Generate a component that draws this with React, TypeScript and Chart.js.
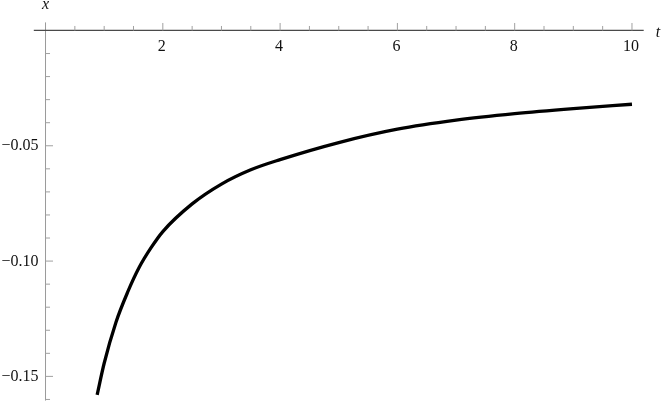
import { useEffect, useRef } from "react";
import { Chart, LineController, LineElement, PointElement, LinearScale, Plugin } from "chart.js";

Chart.register(LineController, LineElement, PointElement, LinearScale);

// curve
const tValues = [0.88, 1.0, 1.2, 1.4, 1.6, 1.8, 2.0, 2.5, 3.0, 3.5, 4.0, 5.0, 6.0, 7.0, 8.0, 9.0, 10.0];
const xValues = [-0.158, -0.1443, -0.1266, -0.1135, -0.1026, -0.0942, -0.0872, -0.0752, -0.0666, -0.0604, -0.056, -0.0486, -0.0428, -0.0389, -0.0361, -0.0339, -0.032];

const xMajorTicks = [2, 4, 6, 8, 10];
const xTickLabels = ["2", "4", "6", "8", "10"];
const xMinorTicks = [0.5, 1, 1.5, 2.5, 3, 3.5, 4.5, 5, 5.5, 6.5, 7, 7.5, 8.5, 9, 9.5];

const yMajorTicks = [-0.05, -0.1, -0.15];
const yTickLabels = ["\u22120.05", "\u22120.10", "\u22120.15"];
const yMinorTicks = [-0.01, -0.02, -0.03, -0.04, -0.06, -0.07, -0.08, -0.09, -0.11, -0.12, -0.13, -0.14, -0.16];

const FONT = "16px 'Times New Roman', 'Liberation Serif', serif";
const ITALIC = "italic 16px 'Times New Roman', 'Liberation Serif', serif";

// axes through the origin, Mathematica style
const axesPlugin: Plugin<"line"> = {
  id: "originAxes",
  beforeDatasetsDraw(chart) {
    const { ctx, chartArea, scales } = chart;
    const xs = scales.x;
    const ys = scales.y;
    const x0 = xs.getPixelForValue(0);
    const y0 = ys.getPixelForValue(0);
    ctx.save();

    // y axis
    ctx.strokeStyle = "#9a9a9a";
    ctx.lineWidth = 1;
    ctx.beginPath();
    ctx.moveTo(x0, chartArea.top);
    ctx.lineTo(x0, chartArea.bottom);
    ctx.stroke();

    // x axis
    ctx.strokeStyle = "#4a4a4a";
    ctx.lineWidth = 1.2;
    ctx.beginPath();
    ctx.moveTo(chartArea.left, y0);
    ctx.lineTo(chartArea.right, y0);
    ctx.stroke();

    ctx.strokeStyle = "#a0a0a0";
    ctx.lineWidth = 1;
    ctx.beginPath();
    xMajorTicks.forEach((v) => {
      const px = xs.getPixelForValue(v);
      ctx.moveTo(px, y0);
      ctx.lineTo(px, y0 - 7.5);
    });
    xMinorTicks.forEach((v) => {
      const px = xs.getPixelForValue(v);
      ctx.moveTo(px, y0);
      ctx.lineTo(px, y0 - 4.5);
    });
    yMajorTicks.forEach((v) => {
      const py = ys.getPixelForValue(v);
      ctx.moveTo(x0, py);
      ctx.lineTo(x0 + 7.5, py);
    });
    yMinorTicks.forEach((v) => {
      const py = ys.getPixelForValue(v);
      ctx.moveTo(x0, py);
      ctx.lineTo(x0 + 4.5, py);
    });
    ctx.stroke();

    ctx.fillStyle = "#111";
    ctx.font = FONT;
    ctx.textAlign = "center";
    ctx.textBaseline = "alphabetic";
    xMajorTicks.forEach((v, i) => {
      ctx.fillText(xTickLabels[i], xs.getPixelForValue(v) - 1, y0 + 20.5);
    });
    ctx.textAlign = "right";
    ctx.textBaseline = "middle";
    yMajorTicks.forEach((v, i) => {
      ctx.fillText(yTickLabels[i], x0 - 7, ys.getPixelForValue(v) + 0.5);
    });

    ctx.font = ITALIC;
    ctx.textAlign = "center";
    ctx.textBaseline = "alphabetic";
    ctx.fillText("x", x0, 9);
    ctx.fillText("t", 658, y0 + 6.5);
    ctx.restore();
  },
};

export default function App() {
  const canvasRef = useRef<HTMLCanvasElement>(null);

  useEffect(() => {
    if (!canvasRef.current) return;
    let chart: Chart<"line"> | null = null;
    let cancelled = false;

    const build = () => {
      if (cancelled || !canvasRef.current) return;
      chart = new Chart(canvasRef.current, {
        type: "line",
        data: {
          datasets: [{
            data: tValues.map((t, i) => ({ x: t, y: xValues[i] })),
            borderColor: "#000",
            borderWidth: 3.3,
            pointRadius: 0,
            fill: false,
            cubicInterpolationMode: "monotone",
          }],
        },
        options: {
          animation: false,
          responsive: true,
          maintainAspectRatio: false,
          events: [],
          layout: { padding: { left: 33.8, right: 20.3, top: 22.4, bottom: 0.4 } },
          plugins: { legend: { display: false }, tooltip: { enabled: false } },
          scales: {
            x: { type: "linear", min: -0.2, max: 10.2, display: false },
            y: { type: "linear", min: -0.1605, max: 0.0035, display: false },
          },
        },
        plugins: [axesPlugin],
      });
    };

    Promise.all([document.fonts.load(FONT), document.fonts.load(ITALIC)])
      .catch(() => null)
      .then(build);

    return () => { cancelled = true; chart?.destroy(); };
  }, []);

  return (
    <div style={{ position: "fixed", left: 0, top: 0, width: 664, height: 401, background: "#fff" }}>
      <canvas ref={canvasRef} />
    </div>
  );
}
